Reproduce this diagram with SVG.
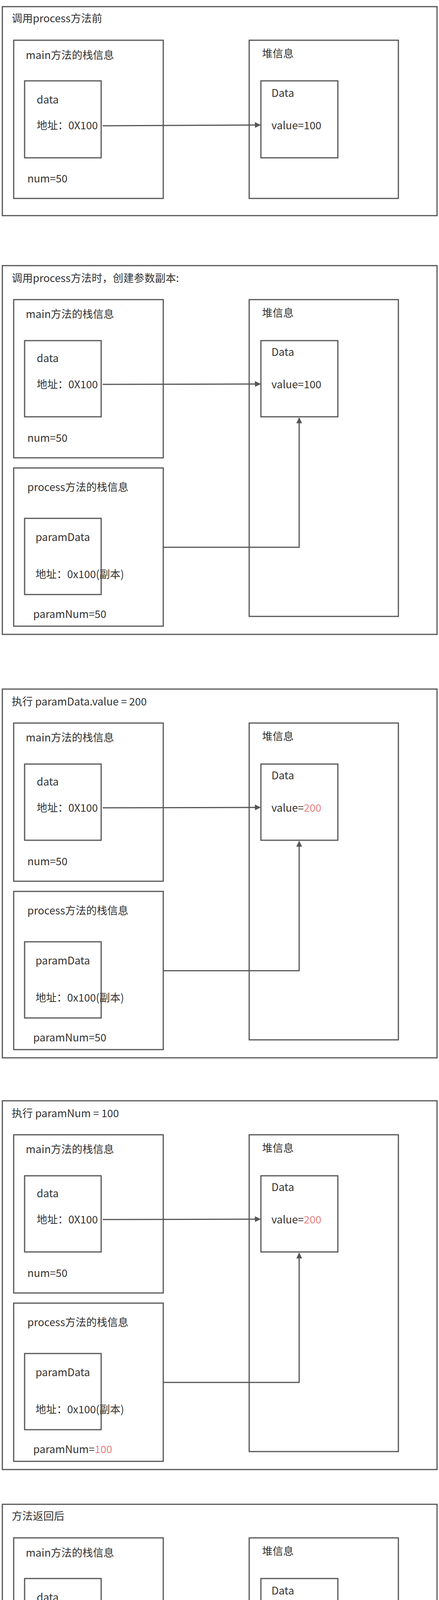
<svg xmlns="http://www.w3.org/2000/svg" width="1124" height="4401" viewBox="0 0 1124 4401">
<style>
rect{fill:none;stroke:#555;stroke-width:3}
text{font-family:"Noto Sans CJK SC","Liberation Sans",sans-serif;font-size:27px;fill:#333}
.r{fill:#ea7f7f}
.c{fill:none;stroke:#555;stroke-width:3}
.wm{fill:#fff;stroke:#999;stroke-width:1;font-size:25px}
</style>
<defs><marker id="ah" viewBox="0 0 10 10" refX="9" refY="5" markerWidth="5" markerHeight="5" orient="auto"><path d="M0,0L10,5L0,10z" fill="#555"/></marker></defs>
<rect width="1124" height="4401" style="fill:#fff;stroke:none"/>

<g id="p1">
<rect x="6" y="17" width="1113" height="535"/>
<text x="30" y="57">调用process方法前</text>
<g id="p1-main"><rect x="35" y="103" width="383" height="405"/><text x="66" y="151">main方法的栈信息</text><text x="70" y="467">num=50</text></g>
<g id="p1-data"><rect x="63" y="207" width="196" height="197"/><text x="94" y="265">data</text><text x="94" y="331">地址：0X100</text></g>
<g id="p1-heap"><rect x="638" y="103" width="382" height="405"/><text x="671" y="147">堆信息</text></g>
<g id="p1-obj"><rect x="668" y="207" width="197" height="197"/><text x="695" y="248">Data</text><text x="695" y="331">value=100</text></g>
<g id="p1-conn"><path class="c" d="M263,322L666,320" marker-end="url(#ah)"/></g>
</g>

<g id="p2">
<rect x="6" y="680" width="1113" height="944"/>
<text x="30" y="722">调用process方法时，创建参数副本:</text>
<g id="p2-main"><rect x="35" y="767" width="383" height="405"/><text x="66" y="814">main方法的栈信息</text><text x="70" y="1131">num=50</text></g>
<g id="p2-data"><rect x="63" y="872" width="196" height="195"/><text x="94" y="927">data</text><text x="94" y="994">地址：0X100</text></g>
<g id="p2-proc"><rect x="35" y="1198" width="383" height="405"/><text x="70" y="1257">process方法的栈信息</text><text x="85" y="1582">paramNum=50</text></g>
<g id="p2-pdata"><rect x="63" y="1327" width="196" height="195"/><text x="91" y="1385">paramData</text><text x="91" y="1480">地址：0x100(副本)</text></g>
<g id="p2-heap"><rect x="638" y="767" width="382" height="811"/><text x="671" y="811">堆信息</text></g>
<g id="p2-obj"><rect x="668" y="872" width="197" height="195"/><text x="695" y="911">Data</text><text x="695" y="994">value=100</text></g>
<g id="p2-conn"><path class="c" d="M263,984L666,983" marker-end="url(#ah)"/><path class="c" d="M418,1401H766V1070" marker-end="url(#ah)"/></g>
</g>

<g id="p3" transform="translate(0,1084)">
<rect x="6" y="680" width="1113" height="944"/>
<text x="30" y="722">执行 paramData.value = 200</text>
<g id="p3-main"><rect x="35" y="767" width="383" height="405"/><text x="66" y="814">main方法的栈信息</text><text x="70" y="1131">num=50</text></g>
<g id="p3-data"><rect x="63" y="872" width="196" height="195"/><text x="94" y="927">data</text><text x="94" y="994">地址：0X100</text></g>
<g id="p3-proc"><rect x="35" y="1198" width="383" height="405"/><text x="70" y="1257">process方法的栈信息</text><text x="85" y="1582">paramNum=50</text></g>
<g id="p3-pdata"><rect x="63" y="1327" width="196" height="195"/><text x="91" y="1385">paramData</text><text x="91" y="1480">地址：0x100(副本)</text></g>
<g id="p3-heap"><rect x="638" y="767" width="382" height="811"/><text x="671" y="811">堆信息</text></g>
<g id="p3-obj"><rect x="668" y="872" width="197" height="195"/><text x="695" y="911">Data</text><text x="695" y="994">value=<tspan class="r">200</tspan></text></g>
<g id="p3-conn"><path class="c" d="M263,984L666,983" marker-end="url(#ah)"/><path class="c" d="M418,1401H766V1070" marker-end="url(#ah)"/></g>
</g>

<g id="p4" transform="translate(0,2138)">
<rect x="6" y="680" width="1113" height="944"/>
<text x="30" y="722">执行 paramNum = 100</text>
<g id="p4-main"><rect x="35" y="767" width="383" height="405"/><text x="66" y="814">main方法的栈信息</text><text x="70" y="1131">num=50</text></g>
<g id="p4-data"><rect x="63" y="872" width="196" height="195"/><text x="94" y="927">data</text><text x="94" y="994">地址：0X100</text></g>
<g id="p4-proc"><rect x="35" y="1198" width="383" height="405"/><text x="70" y="1257">process方法的栈信息</text><text x="85" y="1582">paramNum=<tspan class="r">100</tspan></text></g>
<g id="p4-pdata"><rect x="63" y="1327" width="196" height="195"/><text x="91" y="1385">paramData</text><text x="91" y="1480">地址：0x100(副本)</text></g>
<g id="p4-heap"><rect x="638" y="767" width="382" height="811"/><text x="671" y="811">堆信息</text></g>
<g id="p4-obj"><rect x="668" y="872" width="197" height="195"/><text x="695" y="911">Data</text><text x="695" y="994">value=<tspan class="r">200</tspan></text></g>
<g id="p4-conn"><path class="c" d="M263,984L666,983" marker-end="url(#ah)"/><path class="c" d="M418,1401H766V1070" marker-end="url(#ah)"/></g>
</g>

<g id="p5" transform="translate(0,3834)">
<rect x="6" y="17" width="1113" height="537"/>
<text x="30" y="57">方法返回后</text>
<g id="p5-main"><rect x="35" y="103" width="383" height="405"/><text x="66" y="151">main方法的栈信息</text><text x="70" y="467">num=50</text></g>
<g id="p5-data"><rect x="63" y="207" width="196" height="197"/><text x="94" y="265">data</text><text x="94" y="331">地址：0X100</text></g>
<g id="p5-heap"><rect x="638" y="103" width="382" height="405"/><text x="671" y="147">堆信息</text></g>
<g id="p5-obj"><rect x="668" y="207" width="197" height="197"/><text x="695" y="248">Data</text><text x="695" y="331">value=200</text></g>
<g id="p5-conn"><path class="c" d="M263,322L666,320" marker-end="url(#ah)"/></g>
</g>
<text class="wm" x="677" y="4363">掘金技术社区 @ CV工程师的自我修养</text>
</svg>
